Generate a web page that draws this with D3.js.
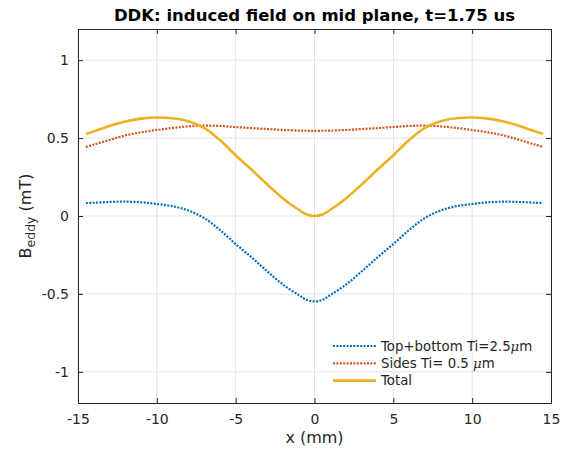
<!DOCTYPE html>
<meta charset="utf-8">
<head>
<title>DDK induced field</title>
<script src="https://d3js.org/d3.v7.min.js"></script>
<style>
  body { margin: 0; background: #fff; }
  text { font-family: "DejaVu Sans", sans-serif; fill: #262626; }
</style>
</head>
<body>
<div id="chart"></div>
<script>
// x positions (mm) where the curves were read
var xPos = [-14.5, -14, -13, -12, -11, -10, -9, -8, -7, -6, -5, -4, -3, -2, -1, -0.5, 0,
             0.5, 1, 2, 3, 4, 5, 6, 7, 8, 9, 10, 11, 12, 13, 14, 14.5];

var topBottom = [0.083, 0.085, 0.090, 0.092, 0.088, 0.077, 0.063, 0.035, -0.013, -0.090, -0.180, -0.265, -0.355, -0.440, -0.508, -0.538, -0.548,
                 -0.538, -0.508, -0.440, -0.355, -0.265, -0.180, -0.090, -0.013, 0.035, 0.063, 0.077, 0.088, 0.092, 0.090, 0.085, 0.083];

var sides = [0.443, 0.458, 0.488, 0.517, 0.537, 0.552, 0.565, 0.575, 0.580, 0.578, 0.571, 0.564, 0.558, 0.552, 0.548, 0.547, 0.546,
             0.547, 0.548, 0.552, 0.558, 0.564, 0.571, 0.578, 0.580, 0.575, 0.565, 0.552, 0.537, 0.517, 0.488, 0.458, 0.443];

var total = [0.527, 0.543, 0.578, 0.607, 0.625, 0.632, 0.627, 0.608, 0.565, 0.487, 0.390, 0.298, 0.203, 0.113, 0.040, 0.010, 0.000,
             0.010, 0.040, 0.113, 0.203, 0.298, 0.390, 0.487, 0.565, 0.608, 0.627, 0.632, 0.625, 0.607, 0.578, 0.543, 0.527];

var xTicks = [-15, -10, -5, 0, 5, 10, 15];
var yTicks = [-1, -0.5, 0, 0.5, 1];

var seriesNames = ["Top+bottom Ti=2.5", "Sides Ti= 0.5 ", "Total"];

var margin = {top: 29, right: 15, bottom: 51, left: 78},
    width = 566 - margin.left - margin.right,
    height = 454 - margin.top - margin.bottom;

var svg = d3.select("#chart").append("svg")
    .attr("width", 566)
    .attr("height", 454);

var g = svg.append("g")
    .attr("transform", "translate(" + margin.left + "," + margin.top + ")");

var x = d3.scaleLinear().domain([-15, 15]).range([0, width]);
var y = d3.scaleLinear().domain([-1.2, 1.2]).range([height, 0]);

// grid
g.selectAll(".xgrid").data(xTicks).enter().append("line")
    .attr("x1", d => x(d)).attr("x2", d => x(d))
    .attr("y1", 0).attr("y2", height)
    .style("stroke", "#e3e3e3");
g.selectAll(".ygrid").data(yTicks).enter().append("line")
    .attr("x1", 0).attr("x2", width)
    .attr("y1", d => y(d)).attr("y2", d => y(d))
    .style("stroke", "#e3e3e3");

// axes (ticks pointing inwards, MATLAB style)
var tl = 5;
var xAxis = g.append("g")
    .attr("transform", "translate(0," + height + ")")
    .call(d3.axisBottom(x).tickValues(xTicks).tickSizeInner(-tl).tickSizeOuter(0).tickPadding(tl + 6)
      .tickFormat(d => String(d)));
var xAxisTop = g.append("g")
    .call(d3.axisTop(x).tickValues(xTicks).tickSizeInner(-tl).tickSizeOuter(0).tickFormat(""));
var yAxis = g.append("g")
    .call(d3.axisLeft(y).tickValues(yTicks).tickSizeInner(-tl).tickSizeOuter(0).tickPadding(tl + 4)
      .tickFormat(d => String(d)));
var yAxisRight = g.append("g")
    .attr("transform", "translate(" + width + ",0)")
    .call(d3.axisRight(y).tickValues(yTicks).tickSizeInner(-tl).tickSizeOuter(0).tickFormat(""));

[xAxis, xAxisTop, yAxis, yAxisRight].forEach(function(a) {
  a.select(".domain").style("stroke", "#262626");
  a.selectAll(".tick line").style("stroke", "#262626");
  a.selectAll("text").style("font-size", "14px").style("fill", "#262626")
    .style("font-family", "DejaVu Sans, sans-serif");
});

// lines
var line = d3.line()
    .x(d => x(d[0]))
    .y(d => y(d[1]))
    .curve(d3.curveCatmullRom);

function pairs(vals) { return xPos.map((v, i) => [v, vals[i]]); }

g.append("path").datum(pairs(topBottom))
    .attr("d", line)
    .style("fill", "none").style("stroke", "#0072BD")
    .style("stroke-width", 2.2).style("stroke-dasharray", "2,1.4");
g.append("path").datum(pairs(sides))
    .attr("d", line)
    .style("fill", "none").style("stroke", "#D95319")
    .style("stroke-width", 2.2).style("stroke-dasharray", "2,1.4");
g.append("path").datum(pairs(total))
    .attr("d", line)
    .style("fill", "none").style("stroke", "#EDB120")
    .style("stroke-width", 2.6);

// title
svg.append("text")
    .attr("x", margin.left + width / 2)
    .attr("y", 21)
    .attr("text-anchor", "middle")
    .style("font-size", "16.5px")
    .style("font-weight", "bold")
    .style("fill", "#000")
    .text("DDK: induced field on mid plane, t=1.75 us");

// axis labels
svg.append("text")
    .attr("x", margin.left + width / 2)
    .attr("y", 443)
    .attr("text-anchor", "middle")
    .style("font-size", "16px")
    .text("x (mm)");

var yl = svg.append("text")
    .attr("transform", "translate(31," + (margin.top + height / 2) + ") rotate(-90)")
    .attr("text-anchor", "middle")
    .style("font-size", "16px");
yl.append("tspan").text("B");
yl.append("tspan").attr("dy", 4).style("font-size", "12.5px").text("eddy");
yl.append("tspan").attr("dy", -4).text(" (mT)");

// legend
var legColors = ["#0072BD", "#D95319", "#EDB120"];
var legDash = ["2,1.4", "2,1.4", null];
var legRows = [346, 363.3, 380.6];
seriesNames.forEach(function(name, i) {
  svg.append("line")
    .attr("x1", 333).attr("x2", 376)
    .attr("y1", legRows[i]).attr("y2", legRows[i])
    .style("stroke", legColors[i])
    .style("stroke-width", i == 2 ? 2.6 : 2.2)
    .style("stroke-dasharray", legDash[i]);
  var t = svg.append("text")
    .attr("x", 381).attr("y", legRows[i] + 4.8)
    .style("font-size", "13.3px")
    .text(name);
  if (i < 2) {
    t.append("tspan").style("font-style", "italic").style("font-family", "DejaVu Serif, serif").text("\u03bc");
    t.append("tspan").text("m");
  }
});
</script>
</body>
